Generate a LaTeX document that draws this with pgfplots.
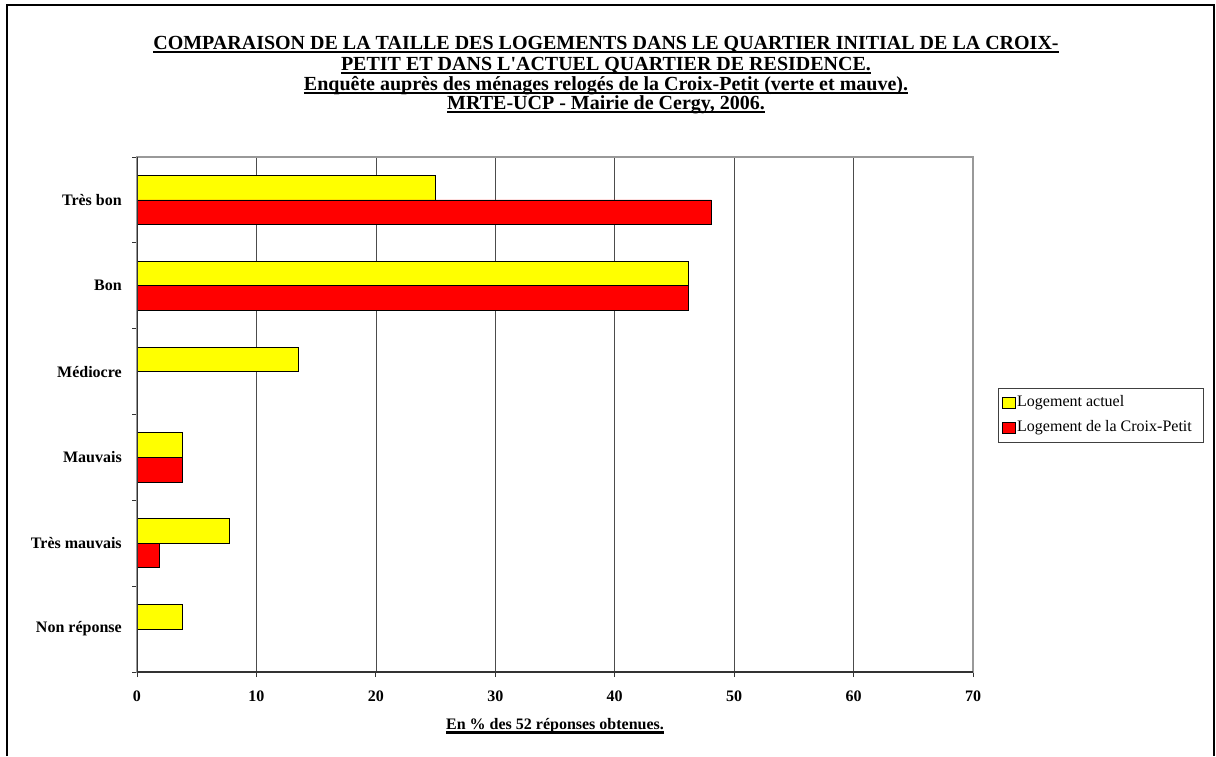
\documentclass[border=0pt]{standalone}
\usepackage{fontspec}
\setmainfont{Liberation Serif}[Ligatures=TeXOff]
\usepackage{pgfplots}
\pgfplotsset{compat=1.18}

\definecolor{barjaune}{RGB}{255,255,0}
\definecolor{barrouge}{RGB}{255,0,0}
\newcommand\ul[1]{\leavevmode\setbox0\hbox{#1}\rlap{\vrule height -1.3pt depth 2.9pt width \wd0}\box0}
\newcommand\tickfont{\fontsize{12}{14}\selectfont\bfseries}
\newcommand\titlefont{\fontsize{15}{15}\selectfont\bfseries}

\begin{document}
\begin{tikzpicture}
\useasboundingbox (0pt,0pt) rectangle (912pt,-567pt);
% cadre du graphique
\draw[line width=1.5pt] (5.25pt,-567pt) -- (5.25pt,-3.75pt) -- (910.5pt,-3.75pt) -- (910.5pt,-567pt);

% titre
\node[anchor=base, font=\titlefont] at (454.5pt,-37.1pt) {\ul{COMPARAISON DE LA TAILLE DES LOGEMENTS DANS LE QUARTIER INITIAL DE LA CROIX-}};
\node[anchor=base, font=\titlefont] at (454.5pt,-52.9pt) {\ul{PETIT ET DANS L'ACTUEL QUARTIER DE RESIDENCE.}};
\node[anchor=base, font=\titlefont] at (454.5pt,-67.9pt) {\ul{Enquête auprès des ménages relogés de la Croix-Petit (verte et mauve).}};
\node[anchor=base, font=\titlefont] at (454.5pt,-82.1pt) {\ul{MRTE-UCP - Mairie de Cergy, 2006.}};

\begin{axis}[
    at={(102.75pt,-504pt)}, anchor=south west,
    scale only axis, width=627pt, height=386.25pt,
    xmin=0, xmax=70, ymin=-0.5, ymax=5.5,
    xtick={0,10,...,70},
    ytick={-0.5,0.5,...,5.5}, yticklabels={},
    extra y ticks={0,1,2,3,4,5},
    extra y tick labels={Non réponse,Très mauvais,Mauvais,Médiocre,Bon,Très bon},
    extra y tick style={major tick length=0pt,
        yticklabel style={font=\tickfont, anchor=east, inner sep=0pt, xshift=-11.25pt}},
    tick pos=left, tick align=outside, major tick length=3.75pt,
    tick style={black!80, line width=0.75pt},
    xmajorgrids, major grid style={black!70, line width=0.5pt},
    axis line style={draw=gray!80, line width=1pt},
    xticklabel style={font=\tickfont, anchor=north, inner sep=0pt, yshift=-10pt},
    /pgf/number format/assume math mode=true,
    xbar, bar width=18.4pt,
    legend cell align=left,
    legend style={at={(1.0299,0.5515)}, anchor=north west,
        draw=black!75, line width=0.6pt,
        font=\fontsize{12}{14}\selectfont,
        inner xsep=3pt, inner ysep=1.5pt,
        nodes={inner xsep=1pt, inner ysep=3.4pt, text height=9pt, text depth=3pt},
        row sep=0pt, column sep=0pt},
]
\addplot[fill=barjaune, draw=black, line width=0.6pt, bar shift=9.2pt,
    legend image code/.code={\draw[fill=barjaune, draw=black, line width=0.6pt] (0pt,-4.3pt) rectangle (9.5pt,4.3pt);}]
    coordinates {(25.0,5) (46.2,4) (13.5,3) (3.8,2) (7.7,1) (3.8,0)};
\addlegendentry{Logement actuel}
\addplot[fill=barrouge, draw=black, line width=0.6pt, bar shift=-9.2pt,
    legend image code/.code={\draw[fill=barrouge, draw=black, line width=0.6pt] (0pt,-4.3pt) rectangle (9.5pt,4.3pt);}]
    coordinates {(48.1,5) (46.2,4) (3.8,2) (1.9,1)};
\addlegendentry{Logement de la Croix-Petit\hspace*{5pt}}
% axes gauche et bas
\draw[black!80, line width=1.5pt] (rel axis cs:0,1) -- (rel axis cs:0,0) -- (rel axis cs:1,0);
\end{axis}

% titre de l'axe des abscisses
\node[font=\tickfont] at (416.25pt,-544.5pt) {\ul{En \% des 52 réponses obtenues.}};
\end{tikzpicture}
\end{document}
